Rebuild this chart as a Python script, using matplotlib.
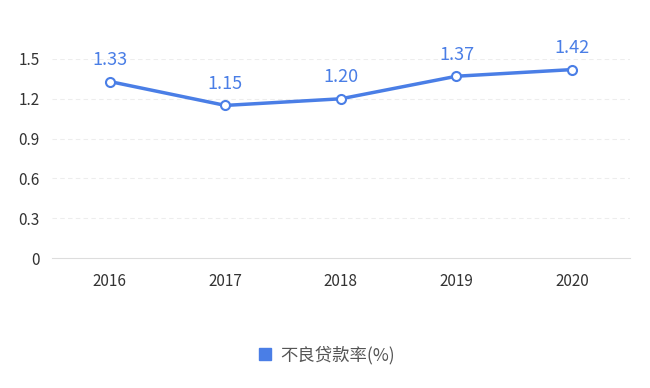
import matplotlib
matplotlib.use("Agg")
import matplotlib.pyplot as plt
from matplotlib.lines import Line2D

plt.rcParams['font.family'] = ['Noto Sans CJK SC', 'DejaVu Sans']

years = ["2016", "2017", "2018", "2019", "2020"]
npl_ratio = [1.33, 1.15, 1.20, 1.37, 1.42]
y_ticks = [0, 0.3, 0.6, 0.9, 1.2, 1.5]
y_tick_labels = ["0", "0.3", "0.6", "0.9", "1.2", "1.5"]
series_name = "不良贷款率(%)"

blue = "#4a7ee6"

fig = plt.figure(figsize=(6.5, 3.88), dpi=100)
ax = fig.add_axes([0.08, 0.335, 0.889, 0.513])

x = list(range(len(years)))
ax.plot(x, npl_ratio, color=blue, linewidth=2.5, marker="o", markersize=6.5,
        markerfacecolor="white", markeredgecolor=blue, markeredgewidth=1.5,
        clip_on=False, zorder=3)
for xi, v in zip(x, npl_ratio):
    ax.annotate(f"{v:.2f}", (xi, v), xytext=(0, 9), textcoords="offset points",
                ha="center", va="bottom", color=blue, fontsize=13)

ax.set_xlim(-0.5, len(years) - 0.5)
ax.set_ylim(0, 1.5)
ax.set_xticks(x)
ax.set_xticklabels(years)
ax.set_yticks(y_ticks)
ax.set_yticklabels(y_tick_labels)
ax.tick_params(axis="both", length=0, labelsize=11, colors="#333333")
ax.tick_params(axis="x", pad=11)
ax.tick_params(axis="y", pad=9)
for lbl in ax.get_xticklabels() + ax.get_yticklabels():
    lbl.set_fontweight("medium")

for t in y_ticks[1:]:
    ax.axhline(t, color="#ededed", linewidth=0.8, linestyle=(0, (4, 3)), zorder=1)
for s in ["top", "right", "left"]:
    ax.spines[s].set_visible(False)
ax.spines["bottom"].set_color("#dddddd")

handle = Line2D([], [], marker="s", linestyle="none", color=blue, markersize=8)
fig.legend([handle], [series_name], loc="center", bbox_to_anchor=(0.5, 0.085),
           frameon=False, fontsize=12.5, handletextpad=0.3, handlelength=1.2,
           labelcolor="#555555")

fig.savefig("out.png", dpi=100)
